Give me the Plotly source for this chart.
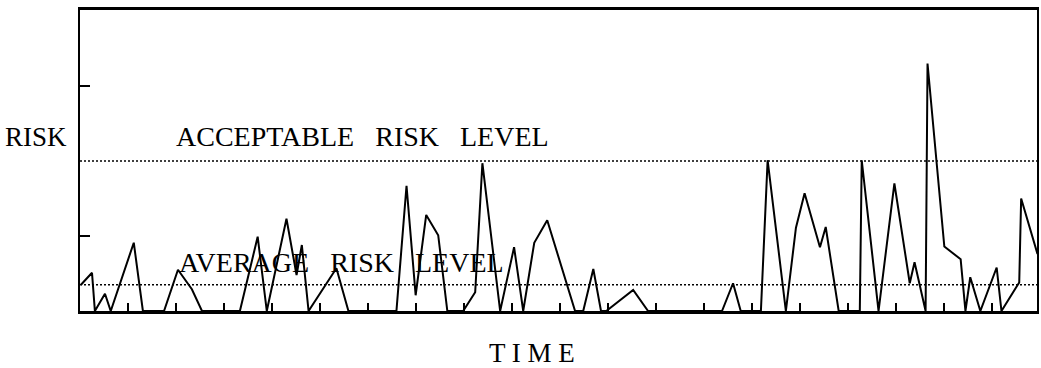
import plotly.graph_objects as go

# time position (tick units) and risk value (axis units) of the risk trace
time_pts = [0.02, 0.25, 0.31, 0.52, 0.64, 1.12, 1.31, 1.75, 2.04, 2.33, 2.54,
            3.33, 3.70, 3.89, 4.30, 4.51, 4.62, 4.76, 5.34, 5.59, 6.59, 6.80,
            6.99, 7.21, 7.46, 7.65, 7.98, 8.23, 8.38, 8.75, 9.04, 9.23, 9.46,
            9.73, 10.31, 10.48, 10.69, 10.85, 10.96, 11.52, 11.83, 13.37, 13.60,
            13.76, 14.18, 14.32, 14.70, 14.91, 15.09, 15.41, 15.53, 15.80, 16.24,
            16.28, 16.63, 16.96, 17.28, 17.38, 17.61, 17.65, 18.00, 18.34, 18.44,
            18.54, 18.75, 19.09, 19.19, 19.56, 19.60, 19.94]
risk_vals = [0.35, 0.51, 0.0, 0.23, 0.0, 0.91, 0.0, 0.0, 0.55, 0.29, 0.0,
             0.0, 0.99, 0.0, 1.23, 0.48, 0.88, 0.0, 0.57, 0.0, 0.0, 1.67,
             0.21, 1.28, 1.01, 0.0, 0.0, 0.25, 1.97, 0.0, 0.85, 0.0, 0.91,
             1.21, 0.0, 0.0, 0.56, 0.0, 0.0, 0.28, 0.0, 0.0, 0.37,
             0.0, 0.0, 2.01, 0.0, 1.11, 1.57, 0.85, 1.12, 0.0, 0.0,
             2.01, 0.0, 1.70, 0.37, 0.65, 0.0, 3.30, 0.86, 0.69, 0.0,
             0.45, 0.0, 0.58, 0.0, 0.38, 1.50, 0.76]

ACCEPTABLE_LEVEL = 2.0
AVERAGE_LEVEL = 0.35
x_tick_vals = list(range(1, 20))
y_tick_vals = [1, 3]

SERIF = "Liberation Serif, Times New Roman, serif"

fig = go.Figure()
fig.add_trace(go.Scatter(x=time_pts, y=risk_vals, mode="lines",
                         line=dict(color="black", width=2), showlegend=False,
                         hoverinfo="skip"))

for lvl in (ACCEPTABLE_LEVEL, AVERAGE_LEVEL):
    fig.add_shape(type="line", xref="paper", x0=0, x1=1, yref="y", y0=lvl, y1=lvl,
                  line=dict(color="black", width=1.5, dash="2px,2px"), layer="below")

fig.add_annotation(text="ACCEPTABLE\u00a0\u00a0 RISK\u00a0\u00a0 LEVEL", x=1.96, y=2.32,
                   xref="x", yref="y", xanchor="left", yanchor="middle",
                   showarrow=False, font=dict(family=SERIF, size=28, color="black"))
fig.add_annotation(text="AVERAGE\u00a0\u00a0 RISK\u00a0\u00a0 LEVEL", x=2.03, y=0.65,
                   xref="x", yref="y", xanchor="left", yanchor="middle",
                   showarrow=False, font=dict(family=SERIF, size=28, color="black"))
fig.add_annotation(text="RISK", x=-0.08, y=2.32, xref="paper", yref="y",
                   xanchor="left", yanchor="middle", showarrow=False,
                   font=dict(family=SERIF, size=27, color="black"))
fig.add_annotation(text="T I M E", x=0.472, y=-0.14, xref="paper", yref="paper",
                   xanchor="center", yanchor="middle", showarrow=False,
                   font=dict(family=SERIF, size=27, color="black"))

fig.update_layout(
    width=1041, height=368, autosize=False,
    margin=dict(l=80, r=2, t=10, b=57),
    paper_bgcolor="white", plot_bgcolor="white",
    showlegend=False,
)
fig.update_xaxes(range=[0, 19.93], showgrid=False, zeroline=False,
                 showline=True, linecolor="black", linewidth=2.5, mirror=True,
                 ticks="inside", tickvals=x_tick_vals, ticklen=8, tickwidth=2,
                 tickcolor="black", showticklabels=False)
fig.update_yaxes(range=[0, 4.013], showgrid=False, zeroline=False,
                 showline=True, linecolor="black", linewidth=2, mirror=True,
                 ticks="inside", tickvals=y_tick_vals, ticklen=10, tickwidth=2,
                 tickcolor="black", showticklabels=False)

fig.write_html(
    "out.html",
    config={"responsive": False, "displayModeBar": False},
    post_script="document.body.style.margin='0';document.body.style.padding='0';"
                "document.body.style.overflow='hidden';",
)
